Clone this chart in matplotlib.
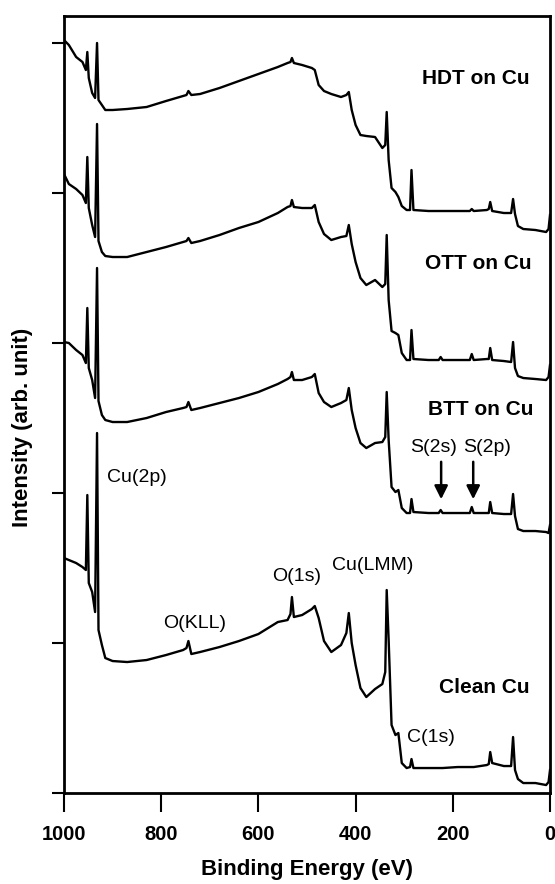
import matplotlib.pyplot as plt

plt.rcParams['font.family'] = ['Liberation Sans', 'DejaVu Sans']

# binding energy grid (eV), shared by the four survey spectra
energy = [1000, 990, 975, 962, 955, 952, 949, 942, 936, 932, 929, 922, 915, 900, 870, 830,
          790, 755, 748, 744, 738, 720, 680, 640, 600, 560, 540, 534, 531, 527, 510, 490,
          484, 476, 465, 450, 430, 419, 414, 408, 400, 390, 378, 360, 345, 339, 336, 332,
          326, 318, 312, 305, 295, 288, 285, 281, 250, 229, 225, 221, 190, 165, 161, 157,
          130, 126, 123, 119, 95, 80, 76, 72, 66, 55, 30, 8, 3, 0]

# intensities (arb. unit), spectra already offset as in the figure
hdt = [753, 748, 736, 731, 723, 741, 715, 700, 695, 750, 693, 688, 683, 683, 684, 686,
       692, 697, 698, 702, 698, 699, 705, 712, 719, 726, 730, 731, 735, 730, 728, 725,
       723, 708, 702, 699, 696, 698, 701, 683, 668, 658, 657, 656, 645, 648, 681, 633,
       605, 601, 596, 587, 583, 583, 623, 583, 582, 582, 582, 582, 582, 582, 584, 582,
       583, 584, 591, 582, 580, 580, 594, 579, 567, 564, 563, 561, 564, 578]
ott = [619, 609, 604, 598, 590, 636, 585, 568, 556, 669, 552, 541, 537, 536, 536, 541,
       546, 551, 552, 555, 550, 552, 558, 565, 571, 580, 586, 587, 593, 586, 585, 585,
       588, 571, 559, 553, 556, 557, 568, 549, 531, 515, 508, 513, 506, 509, 558, 493,
       462, 460, 458, 440, 433, 433, 463, 434, 433, 433, 436, 433, 433, 433, 439, 433,
       434, 434, 445, 433, 432, 431, 451, 425, 417, 415, 414, 413, 416, 428]
btt = [451, 450, 443, 438, 430, 485, 425, 413, 395, 525, 392, 378, 373, 371, 371, 375,
       381, 385, 386, 391, 383, 385, 390, 395, 401, 409, 414, 416, 421, 413, 413, 416,
       419, 400, 391, 386, 390, 393, 405, 383, 365, 350, 345, 350, 351, 356, 401, 353,
       306, 301, 303, 285, 280, 280, 294, 281, 280, 280, 283, 280, 280, 280, 286, 280,
       280, 280, 291, 280, 279, 279, 299, 277, 264, 262, 262, 261, 260, 268]
clean = [235, 233, 230, 226, 223, 298, 210, 201, 181, 360, 163, 148, 135, 132, 131, 133,
         138, 143, 145, 152, 139, 141, 146, 152, 159, 171, 173, 179, 196, 176, 178, 184,
         187, 175, 152, 141, 148, 160, 180, 150, 128, 105, 96, 104, 109, 121, 203, 153,
         68, 58, 60, 30, 25, 26, 34, 25, 25, 25, 25, 25, 26, 26, 26, 26,
         28, 29, 41, 30, 27, 27, 56, 23, 14, 10, 10, 8, 11, 23]

x_ticks = [1000, 800, 600, 400, 200, 0]
y_ticks = [0, 150, 300, 450, 600, 750]

fig = plt.figure(figsize=(5.55, 8.84), dpi=100)
ax = fig.add_axes([0.1153, 0.1029, 0.8757, 0.879])

for series in [hdt, ott, btt, clean]:
    ax.plot(energy, series, color='black', lw=1.7)

ax.set_xlim(1000, 0)
ax.set_ylim(0, 777)
ax.set_xticks(x_ticks)
ax.set_xticklabels([str(t) for t in x_ticks], fontsize=14.5, fontweight='bold')
ax.set_yticks(y_ticks)
ax.set_yticklabels([])
ax.tick_params(axis='x', direction='out', length=14, width=1.5, pad=9)
ax.tick_params(axis='y', direction='out', length=8.5, width=1.5)
for sp in ax.spines.values():
    sp.set_linewidth(2)

# sample labels
lab = dict(fontsize=15, fontweight='bold', ha='left', va='center')
ax.text(263, 715, 'HDT on Cu', **lab)
ax.text(257, 530, 'OTT on Cu', **lab)
ax.text(251, 384, 'BTT on Cu', **lab)
ax.text(228, 106, 'Clean Cu', **lab)

# peak labels
pk = dict(fontsize=14, ha='left', va='center')
ax.text(912, 316, 'Cu(2p)', **pk)
ax.text(796, 170, 'O(KLL)', **pk)
ax.text(572, 217, 'O(1s)', **pk)
ax.text(449, 228, 'Cu(LMM)', **pk)
ax.text(294, 56, 'C(1s)', **pk)
ax.text(288, 346, 'S(2s)', **pk)
ax.text(179, 346, 'S(2p)', **pk)

arrow = dict(arrowstyle='-|>', color='black', lw=1.8, mutation_scale=20)
ax.annotate('', xy=(224, 291), xytext=(224, 334), arrowprops=arrow)
ax.annotate('', xy=(158, 291), xytext=(158, 334), arrowprops=arrow)

fig.text(0.553, 0.004, 'Binding Energy (eV)', fontsize=16, fontweight='bold',
         ha='center', va='bottom')
fig.text(0.04, 0.517, 'Intensity (arb. unit)', fontsize=16, fontweight='bold',
         ha='center', va='center', rotation=90)

fig.savefig('out.png', dpi=100)
